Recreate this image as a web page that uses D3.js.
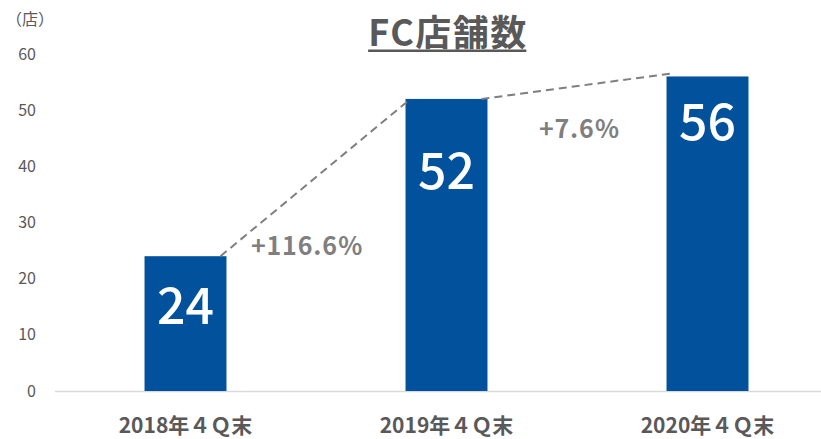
<!DOCTYPE html>
<html>
<head>
<meta charset="utf-8">
<script src="https://cdn.jsdelivr.net/npm/d3@7"></script>
<style>
  body { margin: 0; background: #fff; }
  text { font-family: "Noto Sans CJK JP", "Noto Sans", sans-serif; }
</style>
</head>
<body>
<div id="chart"></div>
<script>
// data
var categories = ['2018年４Ｑ末', '2019年４Ｑ末', '2020年４Ｑ末'];
var stores = [24, 52, 56];
var growthLabels = ['+116.6％', '+7.6％'];
var yTicks = [0, 10, 20, 30, 40, 50, 60];

var width = 821,
  height = 439;

var barColor = '#02519C';
var labelDy = [50, 73, 46]; // value label offset below bar top

var svg = d3.select('#chart').append('svg')
  .attr('width', width)
  .attr('height', height);

var xScale = d3.scaleBand()
  .domain(categories)
  .range([55, 838])
  .paddingInner(0.686)
  .paddingOuter(0.343);

var yScale = d3.scaleLinear()
  .domain([0, 60])
  .range([391, 54]);

// title
var title = svg.append('text')
  .attr('x', 448)
  .attr('y', 46)
  .attr('text-anchor', 'middle')
  .attr('font-size', 36)
  .attr('font-weight', 'bold')
  .attr('letter-spacing', 1.5)
  .attr('fill', '#595959')
  .text('FC店舗数');
var tb = title.node().getBBox();
svg.append('rect')
  .attr('x', tb.x)
  .attr('y', 49.5)
  .attr('width', tb.width - 1.5)
  .attr('height', 2.5)
  .attr('fill', '#595959');

// unit
svg.append('text')
  .attr('x', 6)
  .attr('y', 25)
  .attr('font-size', 16)
  .attr('fill', '#595959')
  .text('（店）');

// y axis labels
var yAxis = d3.axisLeft(yScale)
  .tickValues(yTicks)
  .tickSize(0)
  .tickPadding(0);
var yG = svg.append('g')
  .attr('transform', 'translate(36,0)')
  .call(yAxis);
yG.select('.domain').remove();
yG.selectAll('text')
  .attr('font-size', 16)
  .attr('fill', '#595959')
  .attr('font-family', '"Noto Sans CJK JP", sans-serif');

// baseline
svg.append('line')
  .attr('x1', 55)
  .attr('x2', width)
  .attr('y1', yScale(0) + 0.5)
  .attr('y2', yScale(0) + 0.5)
  .attr('stroke', '#d9d9d9')
  .attr('stroke-width', 1.5);

// bars
svg.append('g')
  .selectAll('rect').data(stores)
  .enter().append('rect')
    .attr('x', function(d, i) { return xScale(categories[i]); })
    .attr('y', function(d) { return yScale(d); })
    .attr('width', xScale.bandwidth())
    .attr('height', function(d) { return yScale(0) - yScale(d); })
    .attr('fill', barColor);

// value labels
svg.append('g')
  .selectAll('text').data(stores)
  .enter().append('text')
    .attr('x', function(d, i) { return xScale(categories[i]) + xScale.bandwidth() / 2; })
    .attr('y', function(d, i) { return yScale(d) + labelDy[i]; })
    .attr('dy', '0.35em')
    .attr('text-anchor', 'middle')
    .attr('font-size', 50)
    .attr('font-weight', 500)
    .attr('fill', '#fff')
    .text(function(d) { return d; });

// dashed connectors
var bw = xScale.bandwidth();
for (let i = 0; i < stores.length - 1; i++) {
  svg.append('line')
    .attr('x1', xScale(categories[i]) + bw - 6)
    .attr('y1', yScale(stores[i]))
    .attr('x2', xScale(categories[i + 1]) + 5)
    .attr('y2', yScale(stores[i + 1]) - (i == 0 ? 0 : 3))
    .attr('stroke', '#7f7f7f')
    .attr('stroke-width', 2)
    .attr('stroke-dasharray', '8,5');
}

// growth labels
var growthPos = [[251, 255], [539, 138]];
svg.append('g')
  .selectAll('text').data(growthLabels)
  .enter().append('text')
    .attr('x', function(d, i) { return growthPos[i][0]; })
    .attr('y', function(d, i) { return growthPos[i][1]; })
    .attr('font-size', 25)
    .attr('font-weight', 'bold')
    .attr('letter-spacing', 0.8)
    .attr('fill', '#7f7f7f')
    .text(function(d) { return d; });

// x labels
var xAxis = d3.axisBottom(xScale).tickSize(0).tickPadding(0);
var xG = svg.append('g')
  .attr('transform', 'translate(0,433)')
  .call(xAxis);
xG.select('.domain').remove();
xG.selectAll('text')
  .attr('dy', 0)
  .attr('font-size', 21)
  .attr('font-weight', 'bold')
  .attr('fill', '#595959')
  .attr('font-family', '"Noto Sans CJK JP", sans-serif');
</script>
</body>
</html>
